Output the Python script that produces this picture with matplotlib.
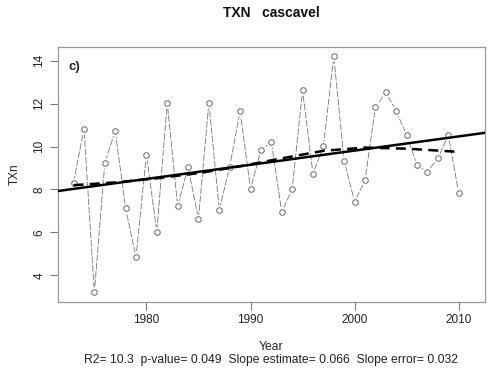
import numpy as np
import matplotlib
matplotlib.use("Agg")
import matplotlib.pyplot as plt

plt.rcParams['font.family'] = ['Liberation Sans', 'DejaVu Sans']

# yearly TXn values for cascavel
years = list(range(1973, 2011))
txn = [8.32, 10.83, 3.22, 9.22, 10.73, 7.13, 4.85, 9.62, 6.04, 12.04,
       7.23, 9.03, 6.64, 12.04, 7.05, 9.06, 11.64, 8.02, 9.82, 10.22,
       6.94, 8.02, 12.61, 8.73, 10.02, 14.19, 9.31, 7.43, 8.43, 11.82,
       12.52, 11.64, 10.52, 9.14, 8.83, 9.45, 10.52, 7.84]

# smoothed curve (dashed)
smooth_years = [1973, 1977, 1981, 1985, 1989, 1993, 1997, 2001, 2005, 2010]
smooth_vals = [8.2, 8.33, 8.52, 8.76, 9.08, 9.45, 9.8, 9.95, 9.9, 9.75]

# linear trend
trend_slope = 0.066
trend_at_1990 = 9.15

stats_text = "R2= 10.3  p-value= 0.049  Slope estimate= 0.066  Slope error= 0.032"

fig = plt.figure(figsize=(5.02, 3.83), dpi=100)
ax = fig.add_axes([0.115, 0.2123, 0.851, 0.665])

grey = "#777777"
ax.plot(years, txn, color=grey, lw=0.6, dashes=(8, 2), zorder=2)
ax.plot(years, txn, ls="none", marker="o", ms=6.5, mfc="white", mec="white", zorder=3)
ax.plot(years, txn, ls="none", marker="o", ms=4.0, mfc="white", mec="#666666", mew=0.7, zorder=4)

ax.axline((1990, trend_at_1990), slope=trend_slope, color="black", lw=1.8, zorder=5)
ax.plot(smooth_years, smooth_vals, color="black", lw=1.8, dashes=(4, 2.5), zorder=5)

ax.set_xlim(1971.48, 2012.52)
ax.set_ylim(2.78, 14.63)
ax.set_xticks([1980, 1990, 2000, 2010])
ax.set_yticks([4, 6, 8, 10, 12, 14])
ax.tick_params(axis="both", labelsize=8.5, length=6, width=0.8, color="#777777",
               labelcolor="#222222", pad=3)
ax.tick_params(axis="y", labelrotation=90)
for lab in ax.get_yticklabels():
    lab.set_va("center")
for sp in ax.spines.values():
    sp.set_color("#999999")
    sp.set_linewidth(0.9)

ax.set_ylabel("TXn", fontsize=8.5, color="#222222", labelpad=9)
ax.text(0.025, 0.92, "c)", transform=ax.transAxes, fontsize=9.5, fontweight="bold",
        color="#222222", va="center")

fig.text(0.54, 0.967, "TXN   cascavel", ha="center", va="center", fontsize=10,
         fontweight="bold", color="#111111")
fig.text(0.54, 0.094, "Year", ha="center", va="center", fontsize=8.7, color="#222222")
fig.text(0.54, 0.059, stats_text, ha="center", va="center", fontsize=8.7, color="#222222")

fig.savefig("out.png", dpi=100, facecolor="white")
